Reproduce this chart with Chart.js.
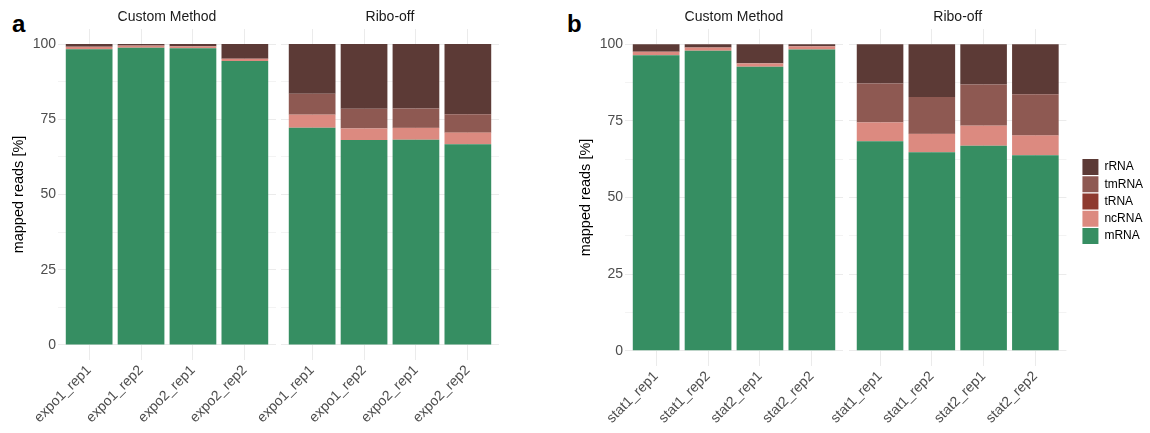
<!DOCTYPE html>
<html>
<head>
<meta charset="utf-8">
<title>mapped reads</title>
<script src="https://cdn.jsdelivr.net/npm/chart.js@4.4.1/dist/chart.umd.min.js"></script>
<style>
  body { margin: 0; background: #fff; width: 1150px; height: 433px; overflow: hidden; position: relative;
         font-family: "Liberation Sans", Arial, sans-serif; }
  canvas { position: absolute; top: 0; }
  .tag { position: absolute; font-weight: bold; font-size: 24px; line-height: 24px; color: #000; }
</style>
</head>
<body>
<div class="tag" style="left:12px; top:12px">a</div>
<div class="tag" style="left:567px; top:12px">b</div>
<canvas id="a1" width="276" height="433" style="left:0px"></canvas>
<canvas id="a2" width="263" height="433" style="left:236px"></canvas>
<canvas id="b1" width="276" height="433" style="left:567px"></canvas>
<canvas id="b2" width="346" height="433" style="left:804px"></canvas>
<script>
const rnaTypes = ['mRNA', 'ncRNA', 'tRNA', 'tmRNA', 'rRNA'];
const rnaColors = ['#368E62', '#DC8A80', '#8E3A2F', '#8E5952', '#5C3A36'];
const facetNames = ['Custom Method', 'Ribo-off'];
const samplesA = ['expo1_rep1', 'expo1_rep2', 'expo2_rep1', 'expo2_rep2'];
const samplesB = ['stat1_rep1', 'stat1_rep2', 'stat2_rep1', 'stat2_rep2'];
const yTicks = [0, 25, 50, 75, 100];
const yMinor = [12.5, 37.5, 62.5, 87.5];

// rows follow rnaTypes: mRNA, ncRNA, tRNA, tmRNA, rRNA (percent of mapped reads)
const aCustom = [
    [98.3, 98.8, 98.6, 94.4],
    [0.7, 0.6, 0.6, 0.6],
    [0.05, 0.05, 0.05, 0.1],
    [0.1, 0.1, 0.1, 0.1],
    [0.85, 0.45, 0.65, 4.8]
];
const aRibo = [
    [72.2, 68.1, 68.2, 66.7],
    [4.3, 3.8, 3.9, 3.8],
    [0.1, 0.1, 0.1, 0.2],
    [6.9, 6.5, 6.4, 6.0],
    [16.5, 21.5, 21.4, 23.3]
];
const bCustom = [
    [96.4, 97.9, 92.7, 98.3],
    [1.1, 1.0, 1.0, 1.0],
    [0.05, 0.05, 0.05, 0.05],
    [0.1, 0.1, 0.1, 0.1],
    [2.35, 0.95, 6.15, 0.55]
];
const bRibo = [
    [68.4, 64.8, 66.9, 63.8],
    [6.1, 5.9, 6.5, 6.4],
    [0.1, 0.1, 0.1, 0.2],
    [12.6, 12.0, 13.4, 13.3],
    [12.8, 17.2, 13.1, 16.3]
];

Chart.defaults.font.family = '"Liberation Sans", Arial, sans-serif';
Chart.defaults.color = '#4D4D4D';

// push the legend a bit away from the panel, like ggplot does
const legendNudge = {
    id: 'legendNudge',
    afterLayout(chart) {
        const lg = chart.legend;
        if (!lg || !chart.options.plugins.legend.display) return;
        lg.left += 14.7; lg.right += 14.7;
        lg.top += 4; lg.bottom += 4;
    }
};

function makeFacet(id, facet, samples, rows, o) {
    const datasets = rnaTypes.map((name, k) => ({
        label: name,
        data: rows[k].map((v, i) => ({ x: i + 1, y: v })),
        backgroundColor: rnaColors[k],
        borderWidth: 0,
        barPercentage: 0.9,
        categoryPercentage: 1.0
    }));

    return new Chart(document.getElementById(id), {
        type: 'bar',
        data: { datasets: datasets },
        plugins: [legendNudge],
        options: {
            responsive: false,
            animation: false,
            devicePixelRatio: 1,
            layout: { autoPadding: false, padding: { left: 0, right: o.padRight || 0, top: 0, bottom: 0 } },
            plugins: {
                title: {
                    display: true, text: facet, fullSize: false, color: '#1A1A1A',
                    font: { size: 14, weight: 'normal' }, padding: { top: 8.6, bottom: 3.6 }
                },
                legend: {
                    display: !!o.legend, position: 'right', reverse: true, fullSize: false,
                    labels: { boxWidth: 16, boxHeight: 16, padding: 1.3, color: '#000', font: { size: 12 } }
                },
                tooltip: { enabled: false }
            },
            scales: {
                x: {
                    type: 'linear', stacked: true, min: 0.4, max: 4.6, offset: false,
                    afterBuildTicks: s => { s.ticks = samples.map((_, i) => ({ value: i + 1 })); },
                    afterFit: s => { s.height = o.xHeight; },
                    ticks: {
                        autoSkip: false, maxRotation: 45, minRotation: 45, padding: 2,
                        font: { size: 14 }, color: '#4D4D4D',
                        callback: v => samples[v - 1]
                    },
                    grid: { offset: false, color: '#EBEBEB', drawTicks: false },
                    border: { display: false }
                },
                y: {
                    stacked: true, min: -5, max: 105,
                    afterBuildTicks: s => {
                        s.ticks = yTicks.concat(yMinor).sort((p, q) => p - q).map(v => ({ value: v }));
                    },
                    afterFit: s => { s.width = o.yWidth; },
                    ticks: {
                        display: !!o.yLabels, padding: 2, font: { size: 14 }, color: '#4D4D4D',
                        callback: v => yTicks.includes(v) ? v : ''
                    },
                    grid: {
                        color: '#EBEBEB', drawTicks: false,
                        lineWidth: c => yTicks.includes(c.tick.value) ? 1 : 0.6
                    },
                    border: { display: false },
                    title: {
                        display: !!o.yLabels, text: 'mapped reads [%]', color: '#000',
                        font: { size: 14.5 }, padding: { top: 10, bottom: 0 }
                    }
                }
            }
        }
    });
}

makeFacet('a1', facetNames[0], samplesA, aCustom, { yWidth: 58, yLabels: true, xHeight: 73 });
makeFacet('a2', facetNames[1], samplesA, aRibo, { yWidth: 45, xHeight: 73 });
makeFacet('b1', facetNames[0], samplesB, bCustom, { yWidth: 58, yLabels: true, xHeight: 67 });
makeFacet('b2', facetNames[1], samplesB, bRibo, { yWidth: 45, xHeight: 67, legend: true, padRight: 11.6 });
</script>
</body>
</html>
